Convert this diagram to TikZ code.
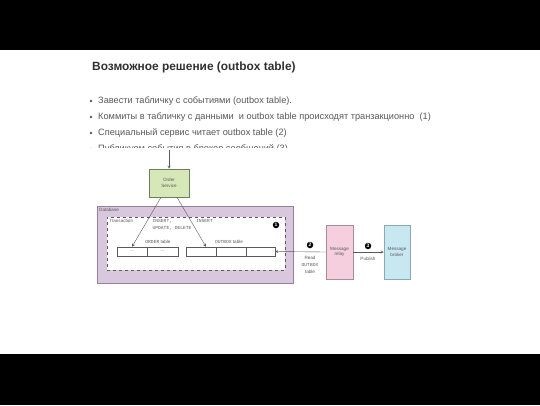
\documentclass[tikz,border=0pt]{standalone}
\usepackage{fontspec}
\setmainfont{Liberation Sans}
\setmonofont{Liberation Mono}
\usetikzlibrary{arrows.meta}

\definecolor{titlegray}{RGB}{48,48,48}
\definecolor{textgray}{RGB}{88,88,88}
\definecolor{linegray}{RGB}{90,90,90}
\definecolor{servicegreen}{RGB}{214,232,184}
\definecolor{servicerim}{RGB}{110,125,90}
\definecolor{dbpurple}{RGB}{217,199,221}
\definecolor{dbrim}{RGB}{150,128,156}
\definecolor{relaypink}{RGB}{246,207,222}
\definecolor{relayrim}{RGB}{170,140,152}
\definecolor{brokerblue}{RGB}{200,232,241}
\definecolor{brokerrim}{RGB}{140,168,180}

\tikzset{
  bullettext/.style={anchor=west, inner sep=0pt, text=textgray,
    font=\fontsize{9.2}{11}\selectfont},
  bulletdot/.style={circle, fill=textgray, inner sep=0pt, minimum size=2.6pt},
  tinytext/.style={inner sep=0pt, text=linegray, font=\fontsize{4.6}{5.6}\selectfont, align=center},
  monotext/.style={inner sep=0pt, text=linegray, font=\ttfamily\fontsize{4.6}{6.4}\selectfont, align=left},
  cellbox/.style={draw=linegray, line width=0.4pt, fill=white, minimum height=9pt,
    inner sep=0pt, text=linegray, font=\fontsize{4.6}{5.6}\selectfont},
  numdot/.style={circle, fill=black, inner sep=0pt, minimum size=6.5pt, text=white,
    font=\bfseries\fontsize{5}{5}\selectfont},
  arr/.style={draw=linegray, line width=0.4pt, -stealth},
}

\begin{document}
\begin{tikzpicture}[x=1pt,y=-1pt]
\useasboundingbox (0,0) rectangle (540,405);
% letterbox
\fill[black] (0,0) rectangle (540,50);
\fill[black] (0,354) rectangle (540,405);

% heading
\node[anchor=west, inner sep=0pt, text=titlegray, font=\bfseries\fontsize{11.9}{14}\selectfont]
  (title) at (92,67) {Возможное решение (outbox table)};

% bullets
\node[bulletdot] (dot1) at (91,101) {};
\node[bullettext] (item1) at (98,101) {Завести табличку с событиями (outbox table).};
\node[bulletdot] (dot2) at (91,117) {};
\node[bullettext] (item2) at (98,117) {Коммиты в табличку с данными \ и outbox table происходят транзакционно \ (1)};
\node[bulletdot] (dot3) at (91,133) {};
\node[bullettext] (item3) at (98,133) {Специальный сервис читает outbox table (2)};
\node[bulletdot] (dot4) at (91,149) {};
\node[bullettext] (item4) at (98,149) {Публикуем события в брокер сообщений (3)};
% the diagram covers the last line
\fill[white] (86,147.5) rectangle (470,165);

% order service
\node[draw=servicerim, fill=servicegreen, line width=0.5pt, minimum width=40pt,
  minimum height=28pt, inner sep=0pt, tinytext] (order) at (169,183) {Order\\Service};
\coordinate (feed) at (169,150);
\draw[arr] (feed) -- (order);

% database
\node[draw=dbrim, fill=dbpurple, line width=0.6pt, minimum width=196pt,
  minimum height=77pt, inner sep=0pt] (db) at (195,244.5) {};
\node[tinytext, anchor=north west] (dblabel) at (99,207.5) {Database};
\node[draw=linegray, dashed, fill=white, line width=0.5pt, minimum width=178pt,
  minimum height=53pt, inner sep=0pt] (tx) at (196,243.5) {};
\node[tinytext, anchor=north west] (txlabel) at (109,219) {Transaction};
\node[monotext, anchor=north west] (writes) at (152.5,219.5) {INSERT,\\UPDATE, DELETE};
\node[monotext, anchor=north west] (insert) at (196,219.5) {INSERT};
\node[numdot] (one) at (276,225) {1};

% tables
\node[tinytext] (orderlabel) at (158,242) {\texttt{ORDER} table};
\node[cellbox, minimum width=30pt] (ocellA) at (132,251.5) {...};
\node[cellbox, minimum width=31pt] (ocellB) at (162.5,251.5) {...};
\node[tinytext] (outboxlabel) at (229,242) {\texttt{OUTBOX} table};
\node[cellbox, minimum width=30pt] (xcellA) at (201,251.5) {};
\node[cellbox, minimum width=30pt] (xcellB) at (231,251.5) {};
\node[cellbox, minimum width=29pt] (xcellC) at (260.5,251.5) {};

\draw[arr] ([xshift=-8pt]order.south) -- (ocellA.north);
\draw[arr] ([xshift=8pt]order.south) -- ([xshift=5pt]xcellA.north);

% relay and broker
\node[draw=relayrim, fill=relaypink, line width=0.5pt, minimum width=27pt,
  minimum height=54pt, inner sep=0pt, tinytext] (relay) at (339.5,252) {Message\\relay};
\node[draw=brokerrim, fill=brokerblue, line width=0.5pt, minimum width=26pt,
  minimum height=54pt, inner sep=0pt, tinytext] (broker) at (397,252) {Message\\broker};

\draw[arr] (relay.west) -- (xcellC.east);
\node[numdot] (two) at (310,245) {2};
\node[tinytext, font=\fontsize{4.6}{7}\selectfont] (readlabel) at (310,265) {Read\\\texttt{OUTBOX}\\table};

\draw[arr] (relay.east) -- (broker.west);
\node[numdot] (three) at (368,246) {3};
\node[tinytext] (publabel) at (368,259) {Publish};
\end{tikzpicture}
\end{document}
